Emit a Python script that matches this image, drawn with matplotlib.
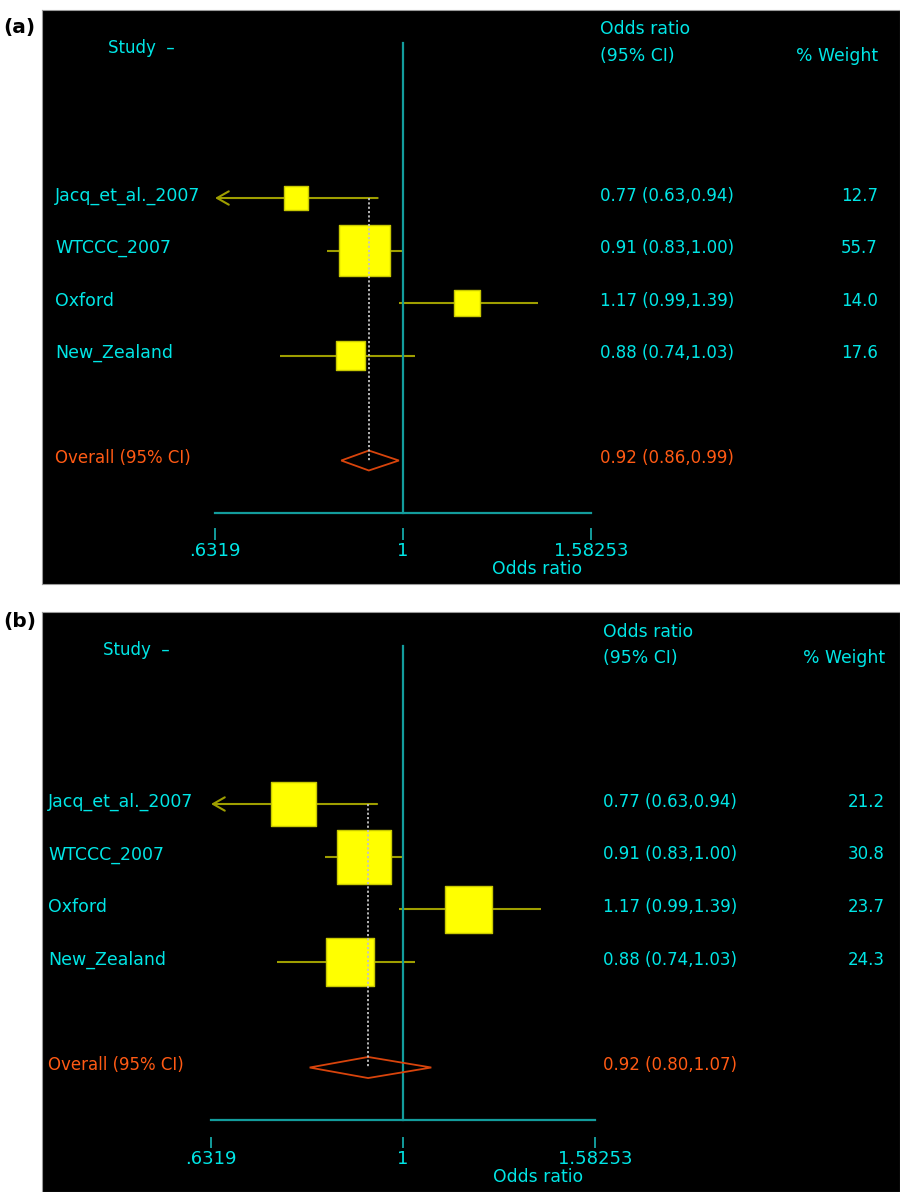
import numpy as np
import matplotlib.pyplot as plt

# data shared by both panels
studies = ["Jacq_et_al._2007", "WTCCC_2007", "Oxford", "New_Zealand"]
odds = [0.77, 0.91, 1.17, 0.88]
ci_low = [0.63, 0.83, 0.99, 0.74]
ci_high = [0.94, 1.00, 1.39, 1.03]

# % weight per panel
weight_a = [12.7, 55.7, 14.0, 17.6]
weight_b = [21.2, 30.8, 23.7, 24.3]

# overall estimate (OR, lower, upper)
overall_a = [0.92, 0.86, 0.99]
overall_b = [0.92, 0.80, 1.07]

tick_vals = [0.6319, 1, 1.58253]
tick_labels = [".6319", "1", "1.58253"]

# colours
cyan = '#00E6E6'
teal = '#139C9C'
yellow = '#FFFF00'
box_edge = '#C8C800'
ci_col = '#9E9E00'
orange = '#FF5A14'
dia_col = '#D8440C'
dot_col = '#C4C4C4'

W, H = 900, 1192
fig = plt.figure(figsize=(9, 11.92), dpi=100)
fig.patch.set_facecolor('white')

# layout of each panel (pixels -> fractions, rows in data units)
lay_a = dict(rect=[42/W, 1-584/H, 858/W, 574/H],
             xlim=(0.41420, 3.3651), ylim=(7.352, -3.581),
             x_lab=(55-42)/858, x_study=(108-42)/858, x_or=(600-42)/858, x_w=(878-42)/858,
             x_xlab=(537-42)/858, study_row=-2.756, hdr1=-3.118, hdr2=-2.61,
             vtop=-2.95, tick0=6.30, tick1=6.50, ticklab=6.82, xlab=7.16,
             k=6.9, dia_h=0.19, letter_y=28, letter='(a)')
lay_b = dict(rect=[42/W, 0, 858/W, 580/H],
             xlim=(0.42187, 3.2813), ylim=(7.362, -3.643),
             x_lab=(48-42)/858, x_study=(103-42)/858, x_or=(603-42)/858, x_w=(885-42)/858,
             x_xlab=(538-42)/858, study_row=-2.827, hdr1=-3.175, hdr2=-2.675,
             vtop=-3.0, tick0=6.33, tick1=6.50, ticklab=6.83, xlab=7.17,
             k=9.73, dia_h=0.2, letter_y=622, letter='(b)')


def draw_panel(lay, weights, overall):
    ax = fig.add_axes(lay['rect'])
    ax.set_facecolor('black')
    ax.set_xscale('log')
    ax.set_xlim(lay['xlim'])
    ax.set_ylim(lay['ylim'])
    ax.set_xticks([])
    ax.set_xticks([], minor=True)
    ax.set_yticks([])
    for s in ax.spines.values():
        s.set_color('#9A9A9A')
        s.set_linewidth(0.8)
    tx = ax.get_yaxis_transform()

    rows = np.arange(len(studies))
    ov_row = len(studies) + 1
    axis_row = ov_row + 1

    # confidence intervals (arrow when below the axis range)
    for i in rows:
        lo = ci_low[i]
        if lo < tick_vals[0]:
            ax.annotate('', xy=(tick_vals[0], i), xytext=(ci_high[i], i),
                        arrowprops=dict(arrowstyle='->, head_length=0.7, head_width=0.4',
                                        color=ci_col, lw=1.5, shrinkA=0, shrinkB=0,
                                        mutation_scale=12), zorder=2)
        else:
            ax.plot([lo, ci_high[i]], [i, i], color=ci_col, lw=1.5,
                    solid_capstyle='butt', zorder=2)

    # weighted boxes
    side_pt = lay['k'] * np.sqrt(weights) * 72 / fig.dpi
    ax.scatter(odds, rows, s=side_pt**2, marker='s', facecolor=yellow,
               edgecolor=box_edge, linewidth=1, zorder=3)

    # null line and x axis
    ax.plot([1, 1], [lay['vtop'], axis_row], color=teal, lw=1.6, zorder=4)
    ax.plot([tick_vals[0], tick_vals[-1]], [axis_row, axis_row], color=teal, lw=1.6)
    for t, lab in zip(tick_vals, tick_labels):
        ax.plot([t, t], [lay['tick0'], lay['tick1']], color=teal, lw=1.4)
        ax.text(t, lay['ticklab'], lab, ha='center', va='baseline',
                fontsize=13, color=cyan)
    ax.text(lay['x_xlab'], lay['xlab'], "Odds ratio", transform=tx,
            ha='center', va='baseline', fontsize=12.4, color=cyan)

    # overall estimate
    est, olo, ohi = overall
    h = lay['dia_h']
    ax.fill([olo, est, ohi, est], [ov_row, ov_row - h, ov_row, ov_row + h],
            fill=False, edgecolor=dia_col, lw=1.3, zorder=4)
    ax.plot([est, est], [0, ov_row], color=dot_col, lw=1.3,
            ls=(0, (1.2, 1.2)), zorder=5)

    # headers
    ax.text(lay['x_study'], lay['study_row'], "Study  \u2013", transform=tx,
            ha='left', va='baseline', fontsize=12, color=cyan)
    ax.text(lay['x_or'], lay['hdr1'], "Odds ratio", transform=tx,
            ha='left', va='baseline', fontsize=12.4, color=cyan)
    ax.text(lay['x_or'], lay['hdr2'], "(95% CI)", transform=tx,
            ha='left', va='baseline', fontsize=12.4, color=cyan)
    ax.text(lay['x_w'], lay['hdr2'], "% Weight", transform=tx,
            ha='right', va='baseline', fontsize=12.4, color=cyan)

    # row texts
    for i in rows:
        y = i + 0.05
        ax.text(lay['x_lab'], y, studies[i], transform=tx, ha='left',
                va='baseline', fontsize=12.5, color=cyan)
        ax.text(lay['x_or'], y, f"{odds[i]:.2f} ({ci_low[i]:.2f},{ci_high[i]:.2f})",
                transform=tx, ha='left', va='baseline', fontsize=12, color=cyan)
        ax.text(lay['x_w'], y, f"{weights[i]:.1f}", transform=tx, ha='right',
                va='baseline', fontsize=12, color=cyan)
    y = ov_row + 0.05
    ax.text(lay['x_lab'], y, "Overall (95% CI)", transform=tx, ha='left',
            va='baseline', fontsize=12, color=orange)
    ax.text(lay['x_or'], y, f"{est:.2f} ({olo:.2f},{ohi:.2f})", transform=tx,
            ha='left', va='baseline', fontsize=12, color=orange)

    fig.text(3/W, 1 - lay['letter_y']/H, lay['letter'], ha='left', va='center',
             fontsize=14.5, fontweight='bold', color='black')
    return ax


draw_panel(lay_a, weight_a, overall_a)
draw_panel(lay_b, weight_b, overall_b)

fig.savefig("out.png", dpi=100, facecolor='white')
